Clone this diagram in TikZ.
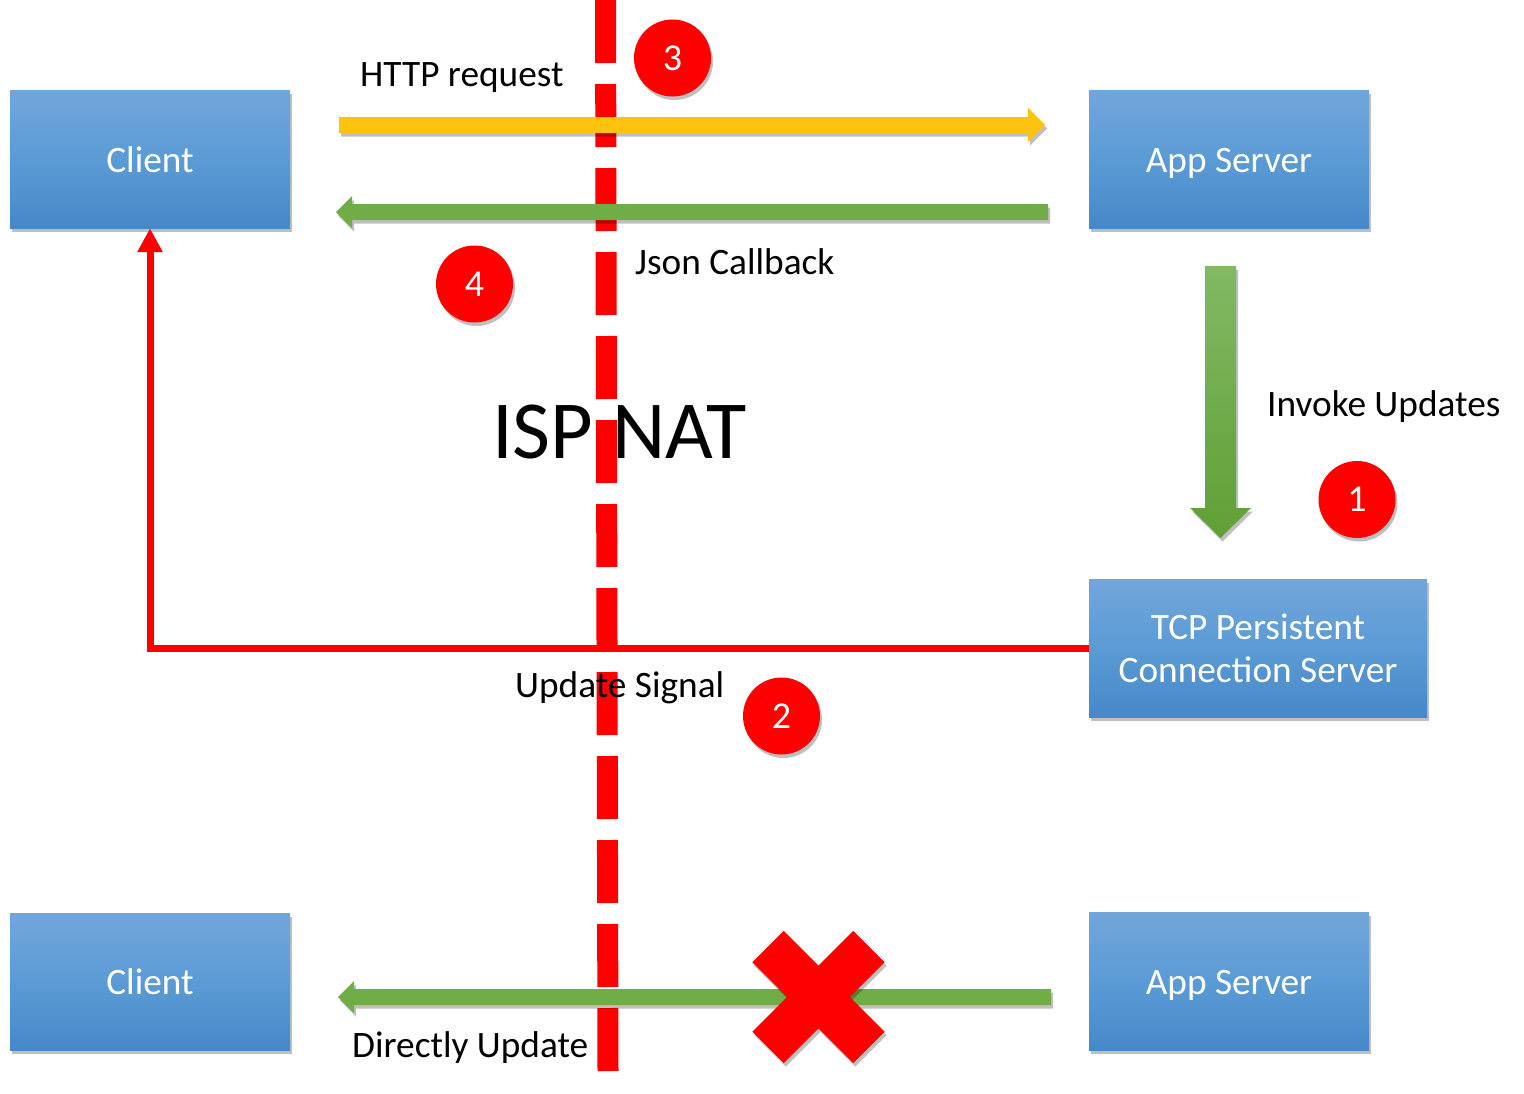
\documentclass[tikz,border=0pt]{standalone}
\usepackage{fontspec}
\setmainfont{Carlito}
\usetikzlibrary{shadows,arrows.meta}
\definecolor{boxtop}{RGB}{114,166,219}
\definecolor{boxmid}{RGB}{91,155,213}
\definecolor{boxbot}{RGB}{70,136,200}
\definecolor{ared}{RGB}{255,0,0}
\definecolor{ayellow}{RGB}{255,194,14}
\definecolor{agreen}{RGB}{112,173,71}
\definecolor{gtop}{RGB}{130,185,100}
\definecolor{gbot}{RGB}{96,160,53}
\tikzset{
  shadowed/.style={drop shadow={shadow xshift=2pt, shadow yshift=-3.5pt, opacity=0.25, fill=black}},
  box/.style={rectangle, minimum width=280pt, minimum height=138pt, inner sep=0pt,
    top color=boxtop, bottom color=boxbot, middle color=boxmid, text=white,
    font=\fontsize{37.3}{43}\selectfont, align=center, shadowed},
  onebox/.style={box, text height=26pt, text depth=0pt},
  badge/.style={circle, fill=ared, minimum size=77pt, inner sep=0pt, text=white,
    font=\fontsize{38}{44}\selectfont, shadowed},
  lbl/.style={anchor=base west, inner sep=0pt, font=\fontsize{37.3}{44}\selectfont},
  thickarrow/.style={shadowed},
}
\begin{document}
\begin{tikzpicture}[x=1pt,y=-1pt]
\useasboundingbox (0,0) rectangle (1524,1093);
% boxes
\node[onebox] (client1) at (150,159) {Client};
\node[onebox] (app1) at (1229,159) {App Server};
\node[box, minimum width=338pt] (tcp) at (1258,648) {TCP Persistent\\Connection Server};
\node[onebox, minimum height=137pt] (client2) at (150,981.5) {Client};
\node[onebox] (app2) at (1229,981) {App Server};
% NAT dashed line
\coordinate (natTop) at (605.5,0);
\coordinate (natBot) at (608,1071);
\draw[ared, line width=21pt, dash pattern=on 63pt off 21pt] (natTop) -- (natBot);
% red update signal connector
\draw[ared, line width=7pt, -{Triangle[width=24pt,length=24pt]}] (tcp.west) -| (client1.south);
% yellow HTTP request arrow
\fill[ayellow, thickarrow] (339,117) -- (1028,117) -- (1028,108) -- (1045,125) -- (1028,142) -- (1028,133) -- (339,133) -- cycle;
% green Json callback arrow
\fill[agreen, thickarrow] (1048,204) -- (352,204) -- (352,196) -- (336,212) -- (352,228) -- (352,220) -- (1048,220) -- cycle;
% big green invoke arrow
\path[top color=gtop, bottom color=gbot, thickarrow] (1205,266) -- (1236,266) -- (1236,508) -- (1251,508) -- (1220.5,538) -- (1190,508) -- (1205,508) -- cycle;
% bottom green arrow
\fill[agreen, thickarrow] (1051,989) -- (354,989) -- (354,981) -- (338,997) -- (354,1013) -- (354,1005) -- (1051,1005) -- cycle;
% red X
\fill[ared, thickarrow, shift={(818.5,997)}, rotate=45]
  (71.4,22.25) -- (22.25,22.25) -- (22.25,71.4) -- (-22.25,71.4) -- (-22.25,22.25) -- (-71.4,22.25)
  -- (-71.4,-22.25) -- (-22.25,-22.25) -- (-22.25,-71.4) -- (22.25,-71.4) -- (22.25,-22.25) -- (71.4,-22.25) -- cycle;
% labels
\node[lbl] (http) at (360,86) {HTTP request};
\node[lbl] (json) at (635,274) {Json Callback};
\node[lbl] (invoke) at (1267,416) {Invoke Updates};
\node[lbl] (upd) at (515,697) {Update Signal};
\node[lbl] (direct) at (352,1057) {Directly Update};
\node[lbl, font=\fontsize{82.5}{96}\selectfont] (isp) at (492,458) {ISP NAT};
% badges
\node[badge] (n3) at (672.5,58) {3};
\node[badge] (n4) at (474.5,284) {4};
\node[badge] (n1) at (1357,499.5) {1};
\node[badge] (n2) at (781.5,716) {2};
\end{tikzpicture}
\end{document}
